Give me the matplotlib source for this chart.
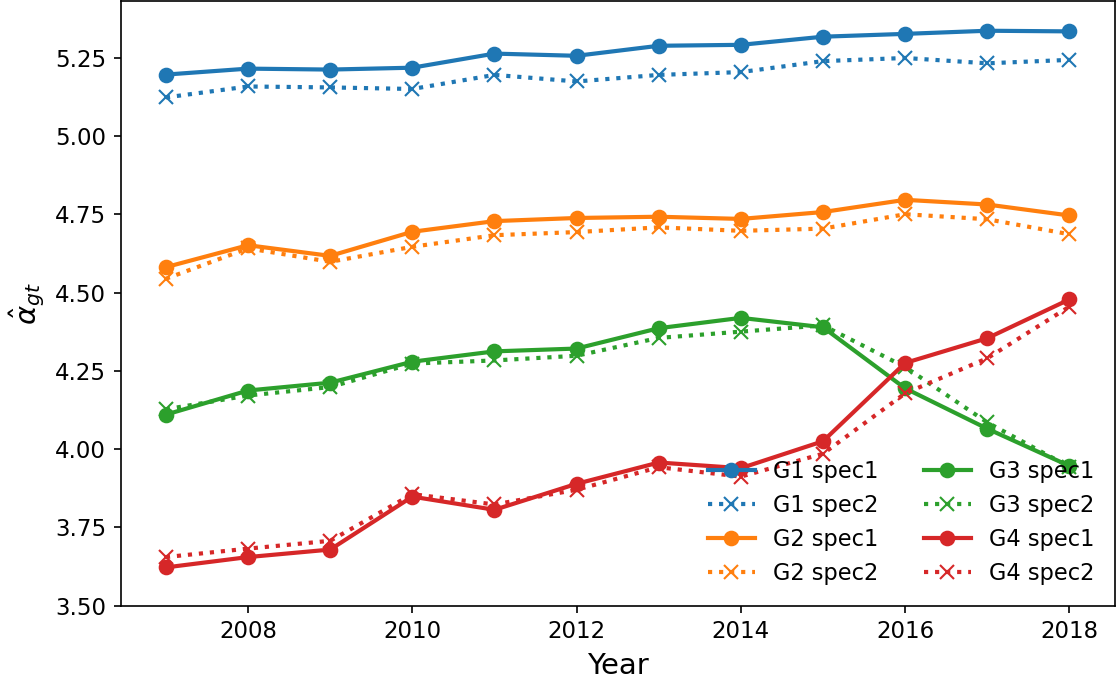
import matplotlib.pyplot as plt
import numpy as np

years = np.arange(2007, 2019)

# estimated alpha_gt per group, two specifications
g1_spec1 = [5.196, 5.215, 5.212, 5.218, 5.263, 5.256, 5.288, 5.291, 5.317, 5.326, 5.336, 5.334]
g1_spec2 = [5.123, 5.158, 5.155, 5.150, 5.195, 5.174, 5.195, 5.204, 5.239, 5.249, 5.232, 5.243]
g2_spec1 = [4.581, 4.651, 4.617, 4.694, 4.728, 4.738, 4.742, 4.735, 4.757, 4.796, 4.781, 4.746]
g2_spec2 = [4.544, 4.641, 4.598, 4.646, 4.683, 4.693, 4.708, 4.697, 4.704, 4.750, 4.734, 4.686]
g3_spec1 = [4.110, 4.187, 4.212, 4.279, 4.312, 4.321, 4.386, 4.419, 4.389, 4.194, 4.065, 3.946]
g3_spec2 = [4.127, 4.171, 4.198, 4.273, 4.283, 4.298, 4.355, 4.375, 4.395, 4.262, 4.085, 3.943]
g4_spec1 = [3.622, 3.655, 3.679, 3.848, 3.806, 3.889, 3.957, 3.939, 4.025, 4.275, 4.354, 4.478]
g4_spec2 = [3.655, 3.682, 3.707, 3.856, 3.823, 3.870, 3.942, 3.912, 3.985, 4.178, 4.290, 4.455]

groups = [
    ("G1", g1_spec1, g1_spec2, "tab:blue"),
    ("G2", g2_spec1, g2_spec2, "tab:orange"),
    ("G3", g3_spec1, g3_spec2, "tab:green"),
    ("G4", g4_spec1, g4_spec2, "tab:red"),
]

fig, ax = plt.subplots(figsize=(7.453, 4.547), dpi=150)
fig.subplots_adjust(left=0.108, right=0.997, top=0.998, bottom=0.112)

for name, s1, s2, color in groups:
    ax.plot(years, s1, '-', marker='o', color=color, lw=2, ms=6.5, label=f"{name} spec1")
    ax.plot(years, s2, ':', marker='x', color=color, lw=2, ms=6.5, label=f"{name} spec2")

ax.set_ylim(3.5, 5.43)
ax.set_xlim(2006.45, 2018.55)
ax.set_yticks([3.5, 3.75, 4.0, 4.25, 4.5, 4.75, 5.0, 5.25])
ax.set_xticks([2008, 2010, 2012, 2014, 2016, 2018])
ax.tick_params(labelsize=11)
ax.set_xlabel("Year", fontsize=14)
ax.set_ylabel(r"$\hat{\alpha}_{gt}$", fontsize=14)
ax.legend(ncol=2, loc='lower right', frameon=False, fontsize=10.8,
          handlelength=2.1, columnspacing=2.0, labelspacing=0.5)

fig.savefig("out.png")
